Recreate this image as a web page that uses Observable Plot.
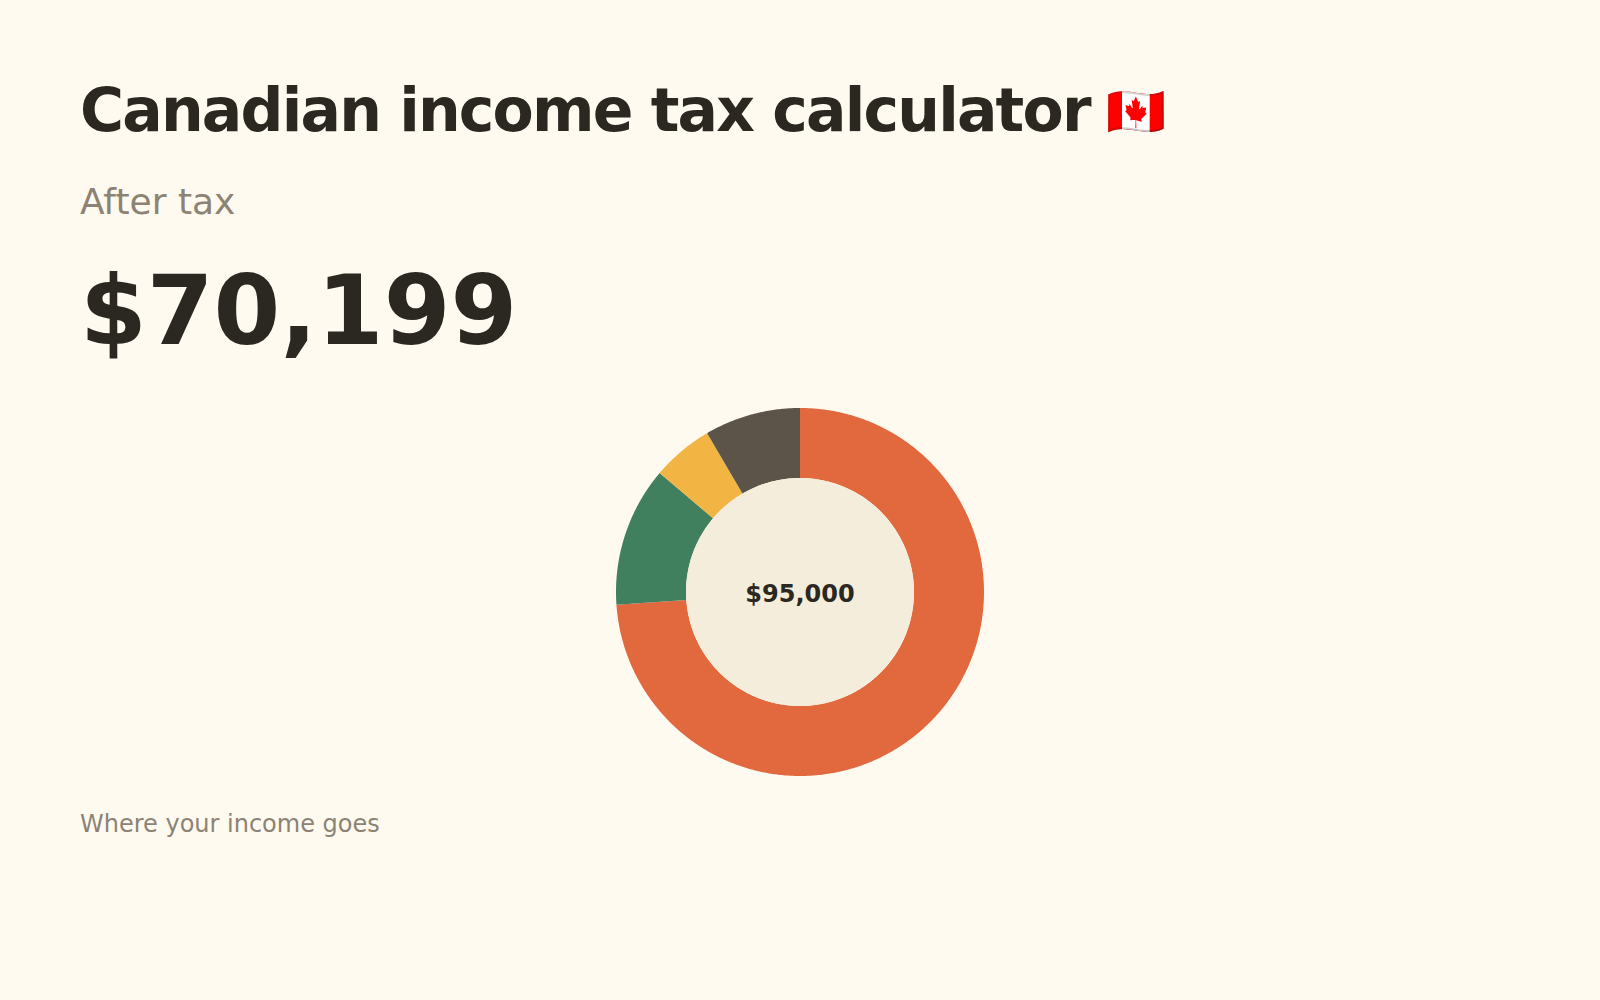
<!DOCTYPE html>
<html lang="en">
<head>
<meta charset="utf-8">
<title>Canadian income tax calculator</title>
<script src="https://cdn.jsdelivr.net/npm/d3@7"></script>
<script src="https://cdn.jsdelivr.net/npm/@observablehq/plot@0.6"></script>
<style>
  html, body { margin: 0; padding: 0; background: #FFFAF0; }
  body { width: 1600px; height: 1000px; overflow: hidden; font-family: "DejaVu Sans", sans-serif; position: relative; }
  .t { position: absolute; left: 80px; margin: 0; white-space: nowrap; line-height: 1; }
  #title { top: 80px; font-size: 60px; letter-spacing: -1.8px; font-weight: 700; color: #2B2821; }
  #title span { font-size: 48px; letter-spacing: 0; position: relative; left: -3px; top: -3px; }
  #sub { top: 184px; font-size: 36px; color: #8C8375; }
  #big { top: 263px; font-size: 96px; font-weight: 700; color: #2B2821; }
  #cap { top: 812px; font-size: 24px; color: #8C8375; }
  #chart { position: absolute; left: 600px; top: 392px; width: 400px; height: 400px; }
  #chart svg { display: block; background: transparent; }
</style>
</head>
<body>
<h1 class="t" id="title">Canadian income tax calculator <span>🇨🇦</span></h1>
<div class="t" id="sub">After tax</div>
<div class="t" id="big">$70,199</div>
<div id="chart"></div>
<div class="t" id="cap">Where your income goes</div>
<script>
const labels = ["After tax", "Federal tax", "Provincial tax", "CPP and EI"];
const amounts = [70199, 11681, 5120, 8000];
const colors = ["#E2683D", "#40805F", "#F2B544", "#5C5349"];
const totalLabel = "$95,000";
const outerRadius = 184;
const innerRadius = 114;
const innerFill = "#F5EDDC";

const total = d3.sum(amounts);
const arcPoints = [];
let cumulative = 0;
labels.forEach((name, i) => {
  const a0 = cumulative / total * 2 * Math.PI;
  cumulative += amounts[i];
  const a1 = cumulative / total * 2 * Math.PI;
  const n = Math.ceil((a1 - a0) / (Math.PI / 360));
  for (let k = 0; k <= n; k++) {
    const a = a0 + (a1 - a0) * k / n;
    arcPoints.push({name, x: outerRadius * Math.sin(a), y: outerRadius * Math.cos(a)});
  }
  for (let k = n; k >= 0; k--) {
    const a = a0 + (a1 - a0) * k / n;
    arcPoints.push({name, x: innerRadius * Math.sin(a), y: innerRadius * Math.cos(a)});
  }
});

const chart = Plot.plot({
  width: 400,
  height: 400,
  margin: 0,
  style: {background: "transparent", fontFamily: "DejaVu Sans"},
  x: {domain: [-199.5, 200.5], axis: null},
  y: {domain: [-200.5, 199.5], axis: null},
  color: {domain: labels, range: colors},
  marks: [
    Plot.line(arcPoints, {x: "x", y: "y", z: "name", fill: "name", stroke: "none"}),
    Plot.dot([{x: 0, y: 0}], {x: "x", y: "y", r: innerRadius, fill: innerFill, stroke: "none"}),
    Plot.text([totalLabel], {
      x: () => 0, y: () => 0, text: d => d,
      fontSize: 24, fontWeight: 700, fill: "#2B2821", textAnchor: "middle", lineAnchor: "middle", dy: 2
    })
  ]
});
document.getElementById("chart").appendChild(chart);
</script>
</body>
</html>
